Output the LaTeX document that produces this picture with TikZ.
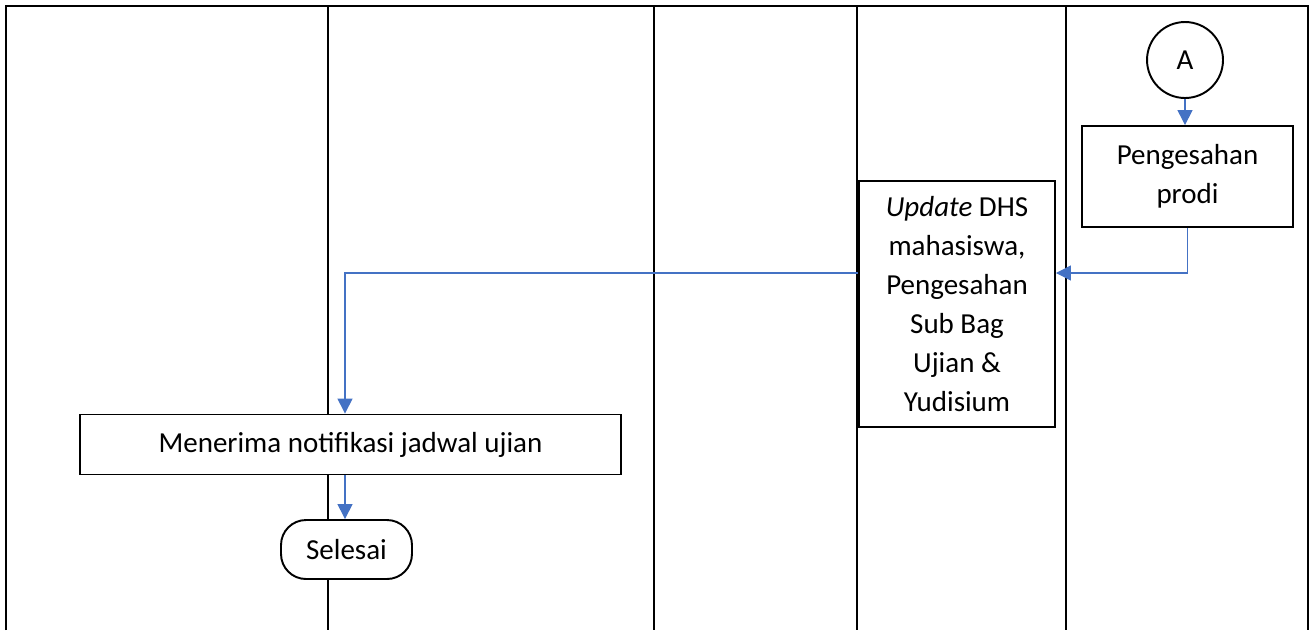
\documentclass[tikz,border=0pt]{standalone}
\usepackage{fontspec}
\setmainfont{Carlito}
\usetikzlibrary{positioning,arrows.meta}
\definecolor{flowblue}{RGB}{68,114,196}

\begin{document}
\begin{tikzpicture}[x=0.02cm, y=-0.02cm, >={Triangle[length=8.5pt,width=8.5pt]},
box/.style={draw, line width=1.1pt, align=center, font=\fontsize{16.5}{22.1}\selectfont},
lane/.style={line width=1.1pt},
flow/.style={->, draw=flowblue, line width=0.8pt}
]
\useasboundingbox (0,0) rectangle (1310,630);

% swimlanes
\draw[lane] (6,630) -- (6,6) -- (1308,6) -- (1308,630);
\foreach \x in {328,654,857,1066}
  \draw[lane] (\x,6) -- (\x,630);

\node (conA) [box, circle, minimum size=1.52cm, inner sep=0pt] at (1185,60) {A};
\node (prodi) [box, minimum width=4.22cm, minimum height=2.02cm] at (1187.5,176.5) {Pengesahan\\prodi};
\node (dhs) [box, fill=white, minimum width=3.92cm, minimum height=4.92cm] at (957,304)
  {\textit{Update} DHS\\mahasiswa,\\Pengesahan\\Sub Bag\\Ujian \&\\Yudisium};
\node (notif) [box, fill=white, minimum width=10.82cm, minimum height=1.2cm] at (350.5,444.5) {Menerima notifikasi jadwal ujian};
\node (end) [box, fill=white, rounded corners=0.5cm, minimum width=2.62cm, minimum height=1.18cm] at (346.5,549.5) {Selesai};

\coordinate (lvl) at (0,273);
\coordinate (col) at (345,0);

\draw[flow] (conA) -- (prodi.north -| conA);
\draw[flow] (prodi.south) |- (dhs.east |- lvl);
\draw[flow] (dhs.west |- lvl) -| (notif.north -| col);
\draw[flow] (notif.south -| col) -- (end.north -| col);

\end{tikzpicture}
\end{document}
